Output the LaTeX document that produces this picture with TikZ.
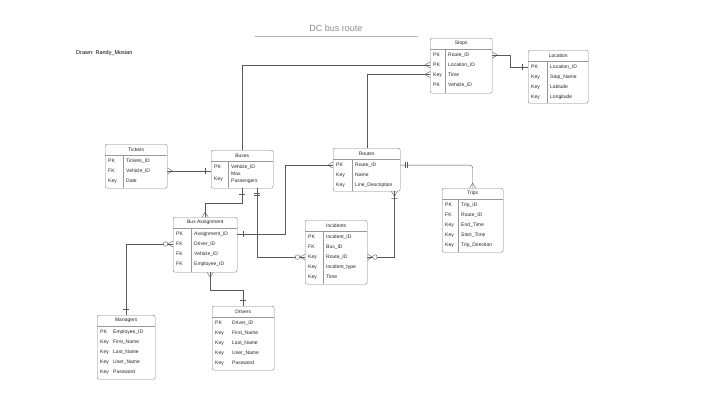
\documentclass[tikz,border=0pt]{standalone}
\usepackage{fontspec}
\setmainfont{Liberation Sans}
\usetikzlibrary{calc,decorations.markings}
\tikzset{
  tbl/.style={draw=black!50, line width=.4pt, rounded corners=2pt, inner sep=0pt},
  txt/.style={font=\fontsize{5}{5.6}\selectfont, text=black!85, inner sep=0pt},
  keyc/.style={txt, anchor=base west},
  fld/.style={txt, anchor=base west, align=left},
  sep/.style={draw=black!40, line width=.3pt},
  rel/.style={draw=black!65, line width=.4pt},
  erm/.style={draw=black!65, line width=.4pt, solid},
  crow end/.style={postaction={decorate, decoration={markings, mark=at position -5pt with {\draw[erm] (0,0)--(5pt,3pt) (0,0)--(5pt,-3pt);}}}},
  crow start/.style={postaction={decorate, decoration={markings, mark=at position 5pt with {\draw[erm] (0,0)--(-5pt,3pt) (0,0)--(-5pt,-3pt);}}}},
  crowbar start/.style={postaction={decorate, decoration={markings, mark=at position 5pt with {\draw[erm] (0,0)--(-5pt,3pt) (0,0)--(-5pt,-3pt) (2pt,-3pt)--(2pt,3pt);}}}},
  bar end/.style={postaction={decorate, decoration={markings, mark=at position -6pt with {\draw[erm] (0,-3pt)--(0,3pt);}}}},
  bar start/.style={postaction={decorate, decoration={markings, mark=at position 6pt with {\draw[erm] (0,-3pt)--(0,3pt);}}}},
  bars start/.style={postaction={decorate, decoration={markings, mark=at position 5pt with {\draw[erm] (0,-3pt)--(0,3pt) (2pt,-3pt)--(2pt,3pt);}}}},
  zcrow end/.style={postaction={decorate, decoration={markings, mark=at position -5pt with {\draw[erm] (0,0)--(5pt,3pt) (0,0)--(5pt,-3pt); \draw[erm, fill=white] (-2.5pt,0) circle (2.3pt);}}}},
  zcrow start/.style={postaction={decorate, decoration={markings, mark=at position 5pt with {\draw[erm] (0,0)--(-5pt,3pt) (0,0)--(-5pt,-3pt); \draw[erm, fill=white] (2.5pt,0) circle (2.3pt);}}}},
}
% entity table: [divider style]{name}{nw corner}{width}{height}{key column}{title}{rows}
\newcommand{\ertable}[8][sep]{%
  \node[tbl, anchor=north west, minimum width=#4, minimum height=#5] (#2) at #3 {};
  \node[txt] (#2-t) at ($(#2.north)+(0,5.5)$) {#7};
  \draw[sep] ($(#2.north west)+(0,11)$) -- ($(#2.north east)+(0,11)$);
  \draw[#1] ($(#2.north west)+(#6,11)$) -- ($(#2.south west)+(#6,0)$);
  \foreach \k/\f [count=\i] in {#8} {
    \node[keyc] at ($(#2.north west)+(3,8.3+10*\i)$) {\k};
    \node[fld] (#2-\i) at ($(#2.north west)+(#6+3,8.3+10*\i)$) {\f};
  }
}

\begin{document}
\begin{tikzpicture}[x=1pt, y=-1pt]
\useasboundingbox[fill=white] (0,0) rectangle (720,405);
\node[font=\fontsize{9}{10}\selectfont, text=black!45] (title) at (336,28) {DC bus route};
\draw[black!30, line width=.4pt] (255,36) -- (418,36);
\node[font=\fontsize{5.5}{6}\selectfont, anchor=west, inner sep=0pt] (author) at (76,53) {Drawn: Randy\_Mosian};

\ertable{stops}{(430,38)}{62pt}{55pt}{15}{Stops}{PK/Route\_ID, PK/Location\_ID, Key/Time, PK/Vehicle\_ID}
\ertable{location}{(528,50)}{60pt}{53pt}{19}{Location}{PK/Location\_ID, Key/Stop\_Name, Key/Latitude, Key/Longitude}
\ertable{tickets}{(105,144)}{62pt}{44pt}{18}{Tickets}{PK/Tickets\_ID, FK/Vehicle\_ID, Key/Date}
\ertable{buses}{(211,150)}{62pt}{38pt}{17}{Buses}{PK/Vehicle\_ID, {\raisebox{-2pt}{Key}}/{\raisebox{-4pt}{\shortstack[l]{Max\\Passengers}}}}
\ertable{routes}{(333,148)}{67pt}{43pt}{19}{Routes}{PK/Route\_ID, Key/Name, Key/Line\_Description}
\ertable{trips}{(442,188)}{61pt}{64pt}{16}{Trips}{PK/Trip\_ID, FK/Route\_ID, Key/End\_Time, Key/Start\_Time, Key/Trip\_Direction}
\ertable{busassign}{(173,217)}{64pt}{55pt}{18}{Bus Assignment}{PK/Assignment\_ID, FK/Driver\_ID, FK/Vehicle\_ID, FK/Employee\_ID}
\ertable{incidents}{(305,220)}{62pt}{64pt}{18}{Incidents}{PK/Incident\_ID, FK/Bus\_ID, Key/Route\_ID, Key/Incident\_type, Key/Time}
\ertable[draw=none]{managers}{(97,315)}{58pt}{64pt}{13}{Managers}{PK/Employee\_ID, Key/First\_Name, Key/Last\_Name, Key/User\_Name, Key/Password}
\ertable[draw=none]{drivers}{(212,306)}{62pt}{64pt}{17}{Drivers}{PK/Driver\_ID, Key/First\_Name, Key/Last\_Name, Key/User\_Name, Key/Password}

% relations
\draw[rel, crow end] (buses.north) |- (stops.west |- stops-2);
\draw[rel, crow end] (routes.north) |- (stops.west |- stops-3);
\draw[rel, crow start, bar end] (stops.east |- stops-1) -- ++(18,0) |- (location.west |- location-1);
\draw[rel, crow start, bar end] (tickets.east |- tickets-2) -- (buses.west |- tickets-2);
\draw[rel, bar start, crow end] (buses.south) -- ++(0,15) -| (busassign.north);
\draw[rel, bars start, zcrow end] ($(buses.south)+(15,0)$) |- (incidents.west |- incidents-3);
\draw[rel, bar start, crow end] (busassign.east |- busassign-1) -- ++(48,0) |- (routes.west |- routes-1);
\draw[rel, bars start, crow end, rounded corners=3pt] (routes.east |- routes-1) -| (trips.north);
\draw[rel, crowbar start, zcrow end] ($(routes.south east)+(-6,0)$) |- (incidents.east |- incidents-3);
\draw[rel, zcrow start, bar end] (busassign.west |- busassign-2) -| (managers.north);
\draw[rel, crow start, bar end] ($(busassign.south)+(5,0)$) -- ++(0,18) -| (drivers.north);
\end{tikzpicture}
\end{document}
